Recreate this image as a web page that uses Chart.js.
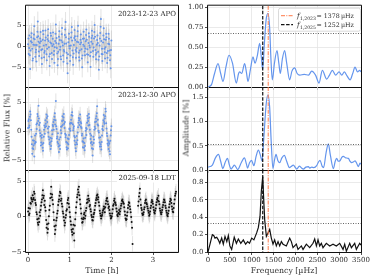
<!DOCTYPE html>
<html lang="en">
<head>
  <meta charset="UTF-8">
  <title>Light curves and amplitude spectra</title>
  <script src="https://cdn.jsdelivr.net/npm/chart.js"></script>
  <style>
    body { margin: 0; background: #fff; }
    #fig { position: relative; width: 373px; height: 280px; overflow: hidden; font-family: 'DejaVu Serif', serif; color: #333; }
    #fig canvas { position: absolute; left: 0; top: 0; }
    .axlabel { position: absolute; font-size: 7.8px; white-space: nowrap; transform: translate(-50%, -50%); }
    .axlabel.vert { transform: translate(-50%, -50%) rotate(-90deg); }
  </style>
</head>
<body>
<div id="fig">
  <canvas id="lc1" width="373" height="280"></canvas>
  <canvas id="lc2" width="373" height="280"></canvas>
  <canvas id="lc3" width="373" height="280"></canvas>
  <canvas id="pg1" width="373" height="280"></canvas>
  <canvas id="pg2" width="373" height="280"></canvas>
  <canvas id="pg3" width="373" height="280"></canvas>
  <div class="axlabel vert" style="left:7px; top:128px">Relative Flux [%]</div>
  <div class="axlabel vert" style="left:186px; top:128px">Amplitude [%]</div>
  <div class="axlabel" style="left:102px; top:270px">Time [h]</div>
  <div class="axlabel" style="left:284px; top:270px">Frequency [µHz]</div>
</div>
<script>
  // ---- light curves (relative flux in %, one value per exposure) ----
  const runLabels = ['2023-12-23 APO', '2023-12-30 APO', '2025-09-18 LDT'];
  const cadence = [1 / 120, 1 / 120, 0.0111];  // hours between exposures
  const fluxErr = [2.4, 1.3, 1.1];            // typical error bar per run

  const flux1 = [
    0.5, 1.9, -1.8, -0.4, 2.6, -2.1, -5.4, -1.0, 1.2, 2.2, 3.1, 0.9, -0.6, -3.4, -2.9, 0.4, 1.9, 2.8, 4.8, 1.7, 0.3, -2.5, -1.4, -0.8,
    -3.6, 0.3, 2.2, 3.5, 5.9, 2.4, 1.1, -1.2, -2.3, -0.1, 0.8, 1.9, 3.4, 1.2, -0.9, -2.8, -4.2, -0.7, 1.6, 3.7, 2.9, 0.2, -2.6, -1.5,
    -1.1, 1.4, 3.8, 2.1, 0.4, -1.9, -3.3, -0.6, 1.7, 2.6, 4.1, 1.3, -0.2, -2.4, -4.7, -1.8, 0.9, 3.2, 2.5, 0.7, -1.6, -3.0, 0.1, 1.8,
    3.3, 0.5, -2.0, -1.1, -3.9, -0.2, 1.3, 3.0, 5.2, 0.8, 2.0, -0.4, -1.7, -4.5, -3.0, -1.3, 0.6, 2.3, 3.6, 1.5, -0.8, -0.1, -2.4, -3.1,
    1.4, 2.9, 4.4, 1.0, 0.2, -2.2, -3.7, -0.9, -1.2, 0.6, 2.7, 4.0, 5.8, 2.2, 0.7, -1.5, -2.8, -4.1, -6.4, -1.9, 1.0, 1.8, 3.0, 0.1,
    -0.5, -3.5, -2.2, 0.2, 2.1, 3.3, 4.6, 1.4, -1.0, -2.6, -4.4, -1.7, 0.3, 2.0, 3.9, 2.4, 1.5, -0.9, -2.7, -1.3, -0.4, 1.1, 2.4, 3.6,
    4.9, 1.0, -1.5, -2.6, -3.4, -1.0, 0.5, 1.6, 2.8, 0.9, -0.7, -2.9, -5.0, -2.2, 1.8, 0.4, 3.5, 1.9, 0.0, -1.2, -2.1, -0.5, 1.2, 2.7,
    4.0, 1.6, -1.9, -0.7, -3.8, -2.0, 0.8, 3.1, 2.3, 0.2, -0.3, -2.3, -4.9, -1.4, 1.1, 2.0, 3.7, 2.5, 0.6, -1.1, -2.5, -0.3, 1.9, 3.4,
    5.1, 2.3, -0.9, -2.0, -3.1, -1.6, 0.4, 1.5, 2.6, 0.8, -1.3, -3.2, -5.6, -2.4, 0.2, 1.9, 3.2, 4.7, 6.5, 1.3, -1.8, -0.6, -3.5, -1.9,
    0.9, 2.6, 4.3, 1.7, -0.6, -1.4, -2.9, -0.2, 1.6, 3.0, 2.2, -1.6, -4.0, -2.7, -1.1, 0.6, 3.0, 1.8, 0.5, -1.0, -3.3, -2.1, -5.2, -0.9, 1.4
  ];
  const flux2 = [
    0.6, 1.8, 2.1, 0.7, 1.0, 2.5, 3.4, 2.9, 1.9, 0.3, -0.9, -2.2, -3.8, -2.9, -1.5, -3.0, -2.4, -1.6, -4.3, -2.1, -0.7, -1.9, -1.8, -0.4,
    1.2, 0.4, 1.4, 3.0, 2.6, 1.8, 4.4, 2.2, 1.1, 0.2, 1.5, -0.3, -0.8, -2.4, -1.9, -1.1, -0.6, -2.2, -2.8, -3.3, -2.0, -0.9, 0.3, 1.0,
    -0.4, 0.7, 1.9, 1.3, 0.9, 2.9, 2.3, 1.6, 2.6, 0.5, -0.2, -0.9, 0.8, -1.4, -2.2, -1.9, -1.1, -3.0, -2.5, -1.7, -1.2, 0.2, -0.5, 1.1,
    0.9, 1.6, 0.3, 2.0, 2.5, 3.1, 1.2, 1.9, 5.2, 0.9, 0.4, -1.2, -0.9, -1.8, -0.3, -2.1, -2.6, -3.5, -1.4, -2.4, -3.0, -1.0, 0.2, 0.8,
    -0.3, 0.9, 1.8, 2.6, 1.1, 1.9, 2.4, 3.0, 1.3, 0.6, 1.6, -0.4, -1.0, -0.6, -1.8, -2.7, -3.1, -2.0, -1.2, -2.9, -2.2, -1.3, -0.6, 0.4,
    0.5, 1.3, 0.1, 1.5, 2.0, 2.8, 1.4, 3.3, 2.7, 1.2, 0.2, 0.6, 0.9, -0.8, -1.6, -1.0, -2.3, -2.9, -3.4, -1.9, -0.8, -2.2, -1.5, -0.2,
    0.7, 1.5, 2.3, 1.9, 1.1, 2.2, 2.9, 1.6, 0.8, 1.4, 0.6, -0.7, -0.4, -1.7, -2.7, -1.8, -1.2, -2.8, -2.0, -3.2, -2.5, -1.1, 0.1, 0.6,
    -0.6, 0.4, 1.5, 2.7, 2.2, 1.8, 1.0, 3.0, 2.4, 1.1, 0.3, -0.4, -1.3, -2.0, -0.7, -1.8, -2.9, -2.3, -4.1, -3.0, -0.9, -2.0, -1.4, 0.3,
    0.8, 1.6, 0.5, 2.2, 1.7, 2.6, 3.1, 4.3, 1.2, 2.0, 1.0, 0.1, -0.2, -1.1, -1.9, -2.6, -1.0, -2.2, -2.6, -3.1, -1.8, -0.7, 0.4, 0.9,
    0.2, 1.9, 2.8, 1.6, 1.3, 2.2, 2.6, 3.9, 3.4, 1.4, 0.5, -0.3, -0.8, -2.1, -1.5, -2.4, -3.0, -1.8, -2.1, -3.4, -3.9, -1.6, -0.7, 0.2, 0.9
  ];
  const flux3 = [
    0.7, 1.2, 0.2, 0.4, 1.1, 1.9, 1.8, 2.6, 2.4, 2.1, 3.0, 2.4, 2.6, 3.5, 3.2, 2.3, 1.9, 1.6, 0.6, 0.3,
    -0.4, -0.9, -1.2, -0.3, -0.8, 0.6, 0.1, 0.9, 1.5, 2.0, 2.4, 3.0, 3.7, 2.6, 2.9, 1.6, 2.2, 1.3, 0.8, -0.5,
    -1.6, -1.1, -2.3, -1.8, -1.0, 0.0, 0.9, 1.5, 2.6, 3.2, 4.2, 2.7, 3.1, 2.3, 1.7, 0.6, -0.5, -1.4, -2.5, -1.9,
    -1.3, -0.6, -0.2, 0.4, 0.8, 1.6, 2.1, 2.4, 2.9, 3.5, 3.3, 2.2, 2.5, 1.8, 1.4, 0.7, 0.4, -0.1, -0.6, -1.3,
    -0.9, -0.2, 0.2, 0.8, 1.0, 1.9, 2.3, 2.6, 1.8, 1.3, 0.6, -0.1, -0.7, -1.2, -1.9, -2.2, -2.6, -1.8, -1.2, -2.4,
    -3.4, -1.3, -0.4, 0.5, 1.3, 2.0, 2.7, 3.1, 3.8, 3.4, 4.2, 3.0, 2.4, 1.7, 1.1, 0.4, -0.3, -0.9, -0.8, -0.4,
    -0.2, 0.3, 0.5, -0.3, 0.1, 0.8, 1.2, 1.9, 2.4, 2.0, 2.9, 2.5, 2.2, 1.4, 1.6, 1.0, 0.7, 0.2, -0.1, -0.5,
    -0.6, -0.1, 0.3, 0.5, 0.9, 1.5, 1.9, 2.3, 2.6, 2.9, 3.1, 2.4, 2.7, 2.0, 1.5, 0.8, 0.4, 0.1, -0.3, 0.0,
    0.2, 0.5, 0.8, 1.0, 1.4, 1.1, 0.6, 1.3, 1.8, 2.2, 2.5, 2.6, 2.1, 1.7, 1.2, 1.4, 0.9, 0.4, 0.1, -0.3,
    -0.2, 0.0, 0.4, 1.0, 1.5, 1.7, 2.2, 2.5, 2.0, 1.9, 1.6, 1.1, 0.7, 0.2, 0.0, 0.4, 0.5, 0.9, 0.3, 0.7,
    1.1, 1.5, 1.8, 2.2, 2.4, 2.1, 1.9, 1.8, 1.3, 0.7, 0.2, -0.3, -0.5, -0.4, 0.1, 0.6, 1.2, 1.6, 2.0, 1.9,
    1.4, 1.0, 0.6, -0.1, -0.8, -1.6, -3.9, null, null, null, null, null, null, null, null, null, null, null, 1.5, 2.1,
    2.8, 3.3, 3.9, 2.4, 1.6, 1.2, 0.9, 0.4, 0.2, 0.3, 0.6, 1.0, 1.3, 1.9, 2.2, 2.4, 1.9, 1.7, 1.4, 1.1,
    0.8, 0.5, 0.1, 0.3, 0.7, 1.2, 1.5, 2.0, 2.3, 2.1, 1.8, 1.3, 0.9, 0.6, 0.4, 0.8, 1.1, 1.6, 2.0, 2.4,
    2.6, 2.2, 2.9, 2.1, 1.7, 1.1, 0.8, 0.5, 0.3, 0.6, 0.9, 1.3, 1.6, 2.0, 2.4, 2.3, 2.0, 1.5, 1.2, 0.8,
    0.5, 0.2, 0.0, 0.4, 0.8, 1.3, 1.7, 2.1, 2.5, 2.3, 1.9, 1.4, 1.0, 0.7, 0.6, 1.2, 1.8, 2.4, 2.9, 3.2, 3.5
  ];

  // ---- amplitude spectra ----
  const pgFreq1 = [0, 80, 150, 229, 290, 343, 410, 480, 560, 648, 700, 725, 770, 839, 880, 915, 970, 1030, 1075, 1130,
    1182, 1225, 1250, 1290, 1330, 1373, 1410, 1440, 1472, 1520, 1579, 1620, 1655, 1700, 1754, 1800, 1868, 1920, 1983, 2040,
    2100, 2200, 2300, 2372, 2460, 2540, 2616, 2715, 2780, 2845, 2920, 2998, 3060, 3120, 3180, 3250, 3310, 3364, 3420, 3470, 3500];
  const pgAmp1 = [0.0, 0.03, 0.17, 0.295, 0.17, 0.07, 0.25, 0.40, 0.30, 0.05, 0.17, 0.19, 0.17, 0.295, 0.18, 0.07, 0.22, 0.38, 0.30, 0.40,
    0.55, 0.35, 0.22, 0.55, 0.85, 0.93, 0.75, 0.35, 0.09, 0.30, 0.46, 0.30, 0.17, 0.35, 0.46, 0.30, 0.09, 0.20, 0.24, 0.17,
    0.15, 0.16, 0.15, 0.20, 0.15, 0.05, 0.21, 0.10, 0.15, 0.21, 0.15, 0.19, 0.15, 0.19, 0.14, 0.09, 0.17, 0.25, 0.19, 0.21, 0.19];

  const pgFreq2 = [0, 100, 170, 240, 290, 340, 390, 445, 490, 528, 565, 604, 680, 760, 833, 880, 905, 950, 995, 1050,
    1100, 1152, 1200, 1236, 1280, 1330, 1373, 1410, 1445, 1485, 1520, 1556, 1600, 1640, 1690, 1747, 1800, 1862, 1900, 1952,
    2000, 2029, 2090, 2140, 2182, 2240, 2296, 2330, 2372, 2420, 2486, 2530, 2563, 2610, 2645, 2700, 2753, 2800, 2868, 2910,
    2944, 2980, 3020, 3060, 3097, 3150, 3211, 3250, 3287, 3330, 3364, 3410, 3440, 3478, 3500];
  const pgAmp2 = [0.06, 0.10, 0.25, 0.32, 0.18, 0.03, 0.15, 0.24, 0.10, 0.02, 0.06, 0.10, 0.01, 0.15, 0.25, 0.12, 0.04, 0.15, 0.20, 0.09,
    0.28, 0.41, 0.30, 0.19, 0.70, 1.35, 1.55, 1.30, 0.60, 0.03, 0.20, 0.32, 0.19, 0.15, 0.25, 0.30, 0.18, 0.05, 0.07, 0.10,
    0.05, 0.02, 0.08, 0.04, 0.02, 0.06, 0.07, 0.04, 0.06, 0.05, 0.09, 0.17, 0.20, 0.08, 0.05, 0.35, 0.54, 0.30, 0.03, 0.18,
    0.24, 0.18, 0.19, 0.26, 0.28, 0.25, 0.24, 0.18, 0.15, 0.17, 0.19, 0.12, 0.07, 0.14, 0.12];

  const pgFreq3 = [0, 40, 99, 130, 160, 200, 236, 270, 313, 350, 389, 430, 465, 500, 541, 600, 650, 694, 750, 808,
    860, 908, 950, 1000, 1050, 1113, 1151, 1190, 1220, 1252, 1275, 1297, 1335, 1373, 1411, 1449, 1487, 1525, 1563, 1602,
    1640, 1678, 1716, 1792, 1869, 1907, 1945, 2021, 2059, 2136, 2174, 2250, 2326, 2402, 2441, 2479, 2517, 2555, 2593, 2631,
    2707, 2784, 2860, 2936, 3013, 3089, 3127, 3165, 3242, 3280, 3356, 3394, 3470, 3500];
  const pgAmp3 = [0.0, 0.08, 0.20, 0.19, 0.16, 0.17, 0.14, 0.10, 0.16, 0.09, 0.18, 0.12, 0.19, 0.07, 0.03, 0.17, 0.10, 0.15, 0.10, 0.14,
    0.09, 0.12, 0.10, 0.16, 0.14, 0.22, 0.28, 0.41, 0.70, 0.87, 0.60, 0.37, 0.18, 0.22, 0.26, 0.16, 0.09, 0.14, 0.07, 0.12,
    0.07, 0.12, 0.09, 0.07, 0.16, 0.12, 0.05, 0.09, 0.03, 0.07, 0.03, 0.09, 0.05, 0.10, 0.15, 0.07, 0.14, 0.07, 0.10, 0.05,
    0.10, 0.07, 0.09, 0.07, 0.10, 0.03, 0.09, 0.01, 0.10, 0.05, 0.10, 0.03, 0.10, 0.08];

  const significance = [0.68, 0.54, 0.335];   // dotted threshold per run
  const f2023 = 1378, f2025 = 1252;            // µHz

  // ---- ticks ----
  const timeTicks = [0, 1, 2, 3];
  const fluxTicks = [-5, 0, 5];
  const freqTicks = [0, 500, 1000, 1500, 2000, 2500, 3000, 3500];
  const ampTicks = [[0, 0.25, 0.5, 0.75, 1.0], [0, 0.5, 1.0, 1.5], [0, 0.2, 0.4, 0.6, 0.8]];
  const ampDecimals = [2, 1, 1];

  const gridColor = '#e4e4e4';
  const tickFont = { family: "'DejaVu Serif', serif", size: 7 };
  const blue = '#6495ed';
  const orange = 'rgba(255,127,80,0.85)';

  const rows = [[4, 87], [87, 170], [170, 252]];
  const leftCol = [26, 178], rightCol = [208, 361];
  const yAxisW = 22, xAxisH = 14;

  const vlines = [
    { f: f2023, color: orange, width: 1.2, dash: [4, 1.3, 1, 1.3] },
    { f: f2025, color: '#111', width: 1.2, dash: [3.5, 1.6] }
  ];

  // draws error bars, reference lines, frame, run label and legend
  const extras = {
    id: 'extras',
    beforeDatasetsDraw(chart, args, o) {
      if (!o.err) return;
      const { ctx, chartArea: a, scales: { x, y } } = chart;
      ctx.save();
      ctx.beginPath(); ctx.rect(a.left, a.top, a.width, a.height); ctx.clip();
      ctx.strokeStyle = 'rgba(150,150,150,0.4)';
      ctx.lineWidth = 0.7;
      chart.data.datasets[0].data.forEach(p => {
        if (p.y === null) return;
        const px = x.getPixelForValue(p.x);
        ctx.beginPath();
        ctx.moveTo(px, y.getPixelForValue(p.y - o.err));
        ctx.lineTo(px, y.getPixelForValue(p.y + o.err));
        ctx.stroke();
      });
      ctx.restore();
    },
    afterDatasetsDraw(chart, args, o) {
      const { ctx, chartArea: a, scales: { x, y } } = chart;
      ctx.save();
      ctx.beginPath(); ctx.rect(a.left, a.top, a.width, a.height); ctx.clip();
      if (o.threshold != null) {
        const py = Math.round(y.getPixelForValue(o.threshold)) + 0.5;
        ctx.strokeStyle = '#555'; ctx.lineWidth = 0.9; ctx.setLineDash([1, 1.5]);
        ctx.beginPath(); ctx.moveTo(a.left, py); ctx.lineTo(a.right, py); ctx.stroke();
      }
      (o.vlines || []).forEach(v => {
        const px = x.getPixelForValue(v.f);
        ctx.strokeStyle = v.color; ctx.lineWidth = v.width; ctx.setLineDash(v.dash);
        ctx.beginPath(); ctx.moveTo(px, a.top); ctx.lineTo(px, a.bottom); ctx.stroke();
      });
      ctx.restore();
    },
    afterDraw(chart, args, o) {
      const { ctx, chartArea: a } = chart;
      ctx.save();
      if (o.label) {
        ctx.font = "7px 'DejaVu Serif'";
        const w = ctx.measureText(o.label).width;
        const xr = a.right - 2, yc = a.top + 8;
        ctx.fillStyle = '#fff';
        ctx.fillRect(xr - w - 1.5, yc - 4.5, w + 3, 9);
        ctx.fillStyle = '#2a2a2a'; ctx.textAlign = 'right'; ctx.textBaseline = 'middle';
        ctx.fillText(o.label, xr, yc);
      }
      if (o.legend) {
        const bx = a.right - 83, by = a.top + 2, bw = 82, bh = 23;
        ctx.fillStyle = 'rgba(255,255,255,0.9)';
        ctx.strokeStyle = '#d0d0d0'; ctx.lineWidth = 0.8;
        ctx.beginPath(); ctx.roundRect(bx + 0.5, by + 0.5, bw, bh, 2); ctx.fill(); ctx.stroke();
        o.legend.forEach((e, i) => {
          const yc = by + 8 + i * 9;
          ctx.strokeStyle = e.color; ctx.lineWidth = e.width; ctx.setLineDash(e.dash);
          ctx.beginPath(); ctx.moveTo(bx + 3, yc); ctx.lineTo(bx + 15, yc); ctx.stroke();
          ctx.setLineDash([]);
          ctx.fillStyle = '#2a2a2a'; ctx.textAlign = 'left'; ctx.textBaseline = 'alphabetic';
          let tx = bx + 19;
          ctx.font = "italic 7px 'DejaVu Serif'";
          ctx.fillText('f', tx, yc + 2.5); tx += ctx.measureText('f').width + 0.3;
          ctx.font = "4.6px 'DejaVu Serif'";
          ctx.fillText(e.sub, tx, yc + 4); tx += ctx.measureText(e.sub).width + 0.5;
          ctx.font = "6.3px 'DejaVu Serif'";
          ctx.fillText('= ' + e.f + '\u2009µHz', tx, yc + 2.5);
        });
      }
      // frame
      ctx.setLineDash([]);
      ctx.strokeStyle = '#111'; ctx.lineWidth = 1;
      ctx.beginPath();
      if (o.top) { ctx.moveTo(a.left - 0.5, a.top - 0.5); ctx.lineTo(a.right + 0.5, a.top - 0.5); }
      ctx.moveTo(a.left - 0.5, a.top - 0.5); ctx.lineTo(a.left - 0.5, a.bottom + 0.5);
      ctx.lineTo(a.right + 0.5, a.bottom + 0.5); ctx.lineTo(a.right + 0.5, a.top - 0.5);
      ctx.stroke();
      ctx.restore();
    }
  };

  function fixedTicks(values) {
    return s => { s.ticks = values.map(v => ({ value: v })); };
  }

  function axisX(min, max, ticks, show, fmt) {
    return {
      type: 'linear', min, max,
      afterBuildTicks: fixedTicks(ticks),
      afterFit: s => { s.height = show ? xAxisH : 0; },
      ticks: { display: show, font: tickFont, color: '#2a2a2a', padding: 1, maxRotation: 0, autoSkip: false, callback: fmt },
      grid: { color: gridColor, lineWidth: 0.8, drawTicks: true, tickLength: 3, tickColor: '#222', tickWidth: 0.8 },
      border: { display: false }
    };
  }

  function axisY(min, max, ticks, fmt) {
    return {
      type: 'linear', min, max,
      afterBuildTicks: fixedTicks(ticks),
      afterFit: s => { s.width = yAxisW; },
      ticks: { font: tickFont, color: '#2a2a2a', padding: 1.5, callback: fmt },
      grid: { color: gridColor, lineWidth: 0.8, drawTicks: true, tickLength: 3, tickColor: '#222', tickWidth: 0.8 },
      border: { display: false }
    };
  }

  function padding(col, row, bottomAxis) {
    return { left: col[0] - yAxisW, top: row[0], right: 373 - col[1], bottom: 280 - row[1] - (bottomAxis ? xAxisH : 0) };
  }

  const fmtFlux = v => (v < 0 ? '\u2212' : '') + Math.abs(v);
  const fmtInt = v => String(v);

  // ---- light curve panels ----
  const fluxes = [flux1, flux2, flux3];
  const fluxRange = [[-9.7, 9.7], [-6.6, 7.6], [-5.04, 6.56]];
  fluxes.forEach((flux, k) => {
    const bottom = k === 2;
    const points = flux.map((y, i) => ({ x: i * cadence[k], y }));
    new Chart(document.getElementById('lc' + (k + 1)), {
      type: 'scatter',
      data: { datasets: [{
        data: points,
        pointRadius: 1, pointBorderWidth: 0,
        pointBackgroundColor: bottom ? '#111' : blue
      }] },
      plugins: [extras],
      options: {
        responsive: false, animation: false, events: [],
        layout: { padding: padding(leftCol, rows[k], bottom) },
        scales: {
          x: axisX(-0.05, 3.6, timeTicks, bottom, fmtInt),
          y: axisY(fluxRange[k][0], fluxRange[k][1], fluxTicks, fmtFlux)
        },
        plugins: {
          legend: { display: false }, tooltip: { enabled: false },
          extras: { err: fluxErr[k], label: runLabels[k], top: k === 0 }
        }
      }
    });
  });

  // ---- amplitude spectrum panels ----
  const freqs = [pgFreq1, pgFreq2, pgFreq3];
  const amps = [pgAmp1, pgAmp2, pgAmp3];
  const ampMax = [1.025, 1.71, 0.945];
  freqs.forEach((freq, k) => {
    const bottom = k === 2;
    const points = freq.map((f, i) => ({ x: f, y: amps[k][i] }));
    new Chart(document.getElementById('pg' + (k + 1)), {
      type: 'line',
      data: { datasets: [{
        data: points,
        borderColor: bottom ? '#111' : blue, borderWidth: 1.2,
        pointRadius: 0, fill: false,
        cubicInterpolationMode: bottom ? 'default' : 'monotone', tension: 0
      }] },
      plugins: [extras],
      options: {
        responsive: false, animation: false, events: [],
        layout: { padding: padding(rightCol, rows[k], bottom) },
        scales: {
          x: axisX(0, 3500, freqTicks, bottom, fmtInt),
          y: axisY(0, ampMax[k], ampTicks[k], v => v.toFixed(ampDecimals[k]))
        },
        plugins: {
          legend: { display: false }, tooltip: { enabled: false },
          extras: {
            threshold: significance[k], vlines, top: k === 0,
            legend: k === 0 ? [
              { color: orange, width: 1.2, dash: [4, 1.3, 1, 1.3], sub: '1,2023', f: f2023 },
              { color: '#111', width: 1.2, dash: [3.5, 1.6], sub: '1,2025', f: f2025 }
            ] : null
          }
        }
      }
    });
  });
</script>
</body>
</html>
